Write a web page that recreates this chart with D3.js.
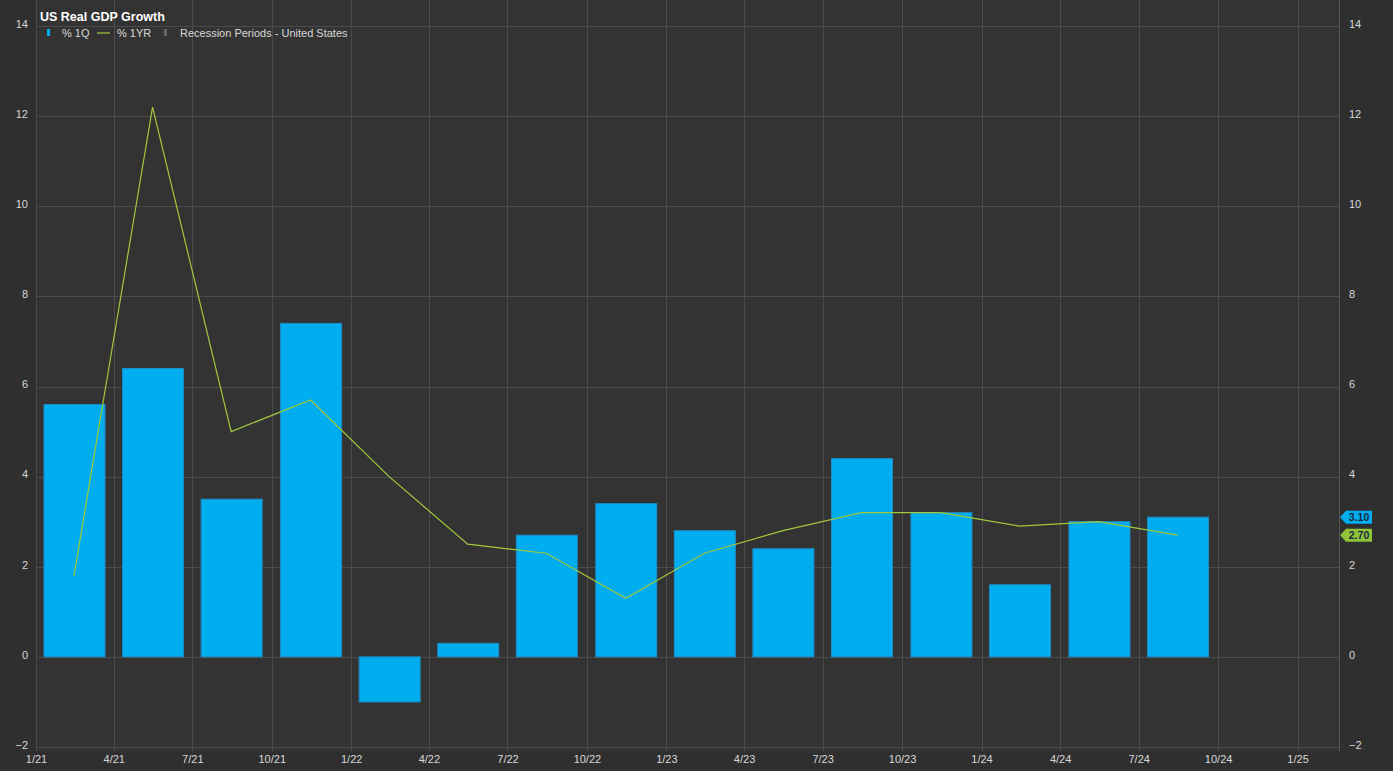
<!DOCTYPE html>
<html>
<head>
<meta charset="utf-8">
<script src="https://cdn.jsdelivr.net/npm/d3@7"></script>
<style>
html,body{margin:0;padding:0;background:#2f2f2f;}
svg{display:block;}
text{font-family:Arial,"Liberation Sans",sans-serif;}
</style>
</head>
<body>
<svg id="chart" width="1393" height="771"></svg>
<script>
const quarters = ["2021-02-14","2021-05-16","2021-08-15","2021-11-15","2022-02-14","2022-05-16","2022-08-15","2022-11-15","2023-02-14","2023-05-16","2023-08-15","2023-11-15","2024-02-14","2024-05-16","2024-08-15"];
const pct1Q = [5.6, 6.4, 3.5, 7.4, -1.0, 0.3, 2.7, 3.4, 2.8, 2.4, 4.4, 3.2, 1.6, 3.0, 3.1];
const pct1YR = [1.8, 12.2, 5.0, 5.7, 4.0, 2.5, 2.3, 1.3, 2.3, 2.8, 3.2, 3.2, 2.9, 3.0, 2.7];
const xTickDates = ["2021-01-01","2021-04-01","2021-07-01","2021-10-01","2022-01-01","2022-04-01","2022-07-01","2022-10-01","2023-01-01","2023-04-01","2023-07-01","2023-10-01","2024-01-01","2024-04-01","2024-07-01","2024-10-01","2025-01-01"];
const xTickLabels = ["1/21","4/21","7/21","10/21","1/22","4/22","7/22","10/22","1/23","4/23","7/23","10/23","1/24","4/24","7/24","10/24","1/25"];
const yTicks = [-2, 0, 2, 4, 6, 8, 10, 12, 14];
const title = "US Real GDP Growth";
const legendLabels = ["% 1Q", "% 1YR", "Recession Periods - United States"];
const lastLabels = ["3.10", "2.70"];

(function () {
const parse = d3.utcParse("%Y-%m-%d");
const svg = d3.select("#chart");
const W = 1393, H = 771;
const pLeft = 36, pRight = 1339, pTop = 26, pBottom = 747;

svg.append("rect").attr("width", W).attr("height", H).attr("fill", "#2f2f2f");
svg.append("rect").attr("x", pLeft).attr("y", 0).attr("width", pRight - pLeft).attr("height", 751).attr("fill", "#333333");

const x = d3.scaleUtc().domain([parse("2021-01-01"), parse("2025-02-18")]).range([pLeft, pRight]);
const y = d3.scaleLinear().domain([-2, 14]).range([pBottom, pTop]);

// grid
const grid = svg.append("g");
grid.selectAll("line.h").data(yTicks).join("line")
  .attr("x1", pLeft).attr("x2", pRight)
  .attr("y1", d => Math.round(y(d)) + 0.5).attr("y2", d => Math.round(y(d)) + 0.5)
  .attr("stroke", "#4b4b4b").attr("stroke-width", 1);
grid.selectAll("line.v").data(xTickDates).join("line")
  .attr("x1", d => Math.round(x(parse(d))) + 0.5).attr("x2", d => Math.round(x(parse(d))) + 0.5)
  .attr("y1", 0).attr("y2", pBottom + 4)
  .attr("stroke", "#4b4b4b").attr("stroke-width", 1);
svg.append("line").attr("x1", pRight + 0.5).attr("x2", pRight + 0.5).attr("y1", 0).attr("y2", pBottom + 4)
  .attr("stroke", "#555");

// axes labels
const axisL = d3.axisLeft(y).tickValues(yTicks).tickSize(0).tickPadding(0);
const gl = svg.append("g").attr("transform", `translate(${pLeft - 8},0)`).call(axisL);
gl.select(".domain").remove();
gl.selectAll("text").attr("fill", "#d8d8d8").attr("font-size", 11).attr("text-anchor", "end").attr("dy", "0.12em");

const axisR = d3.axisRight(y).tickValues(yTicks).tickSize(0).tickPadding(0);
const gr = svg.append("g").attr("transform", `translate(${pRight + 10},0)`).call(axisR);
gr.select(".domain").remove();
gr.selectAll("text").attr("fill", "#d8d8d8").attr("font-size", 11).attr("dy", "0.12em");

const axisB = d3.axisBottom(x).tickValues(xTickDates.map(parse)).tickSize(0).tickPadding(0)
  .tickFormat((d, i) => xTickLabels[i]);
const gb = svg.append("g").attr("transform", `translate(0,${pBottom + 8})`).call(axisB);
gb.select(".domain").remove();
gb.selectAll("text").attr("fill", "#d8d8d8").attr("font-size", 11);

// bars
const barW = 61;
svg.append("g").selectAll("rect").data(pct1Q).join("rect")
  .attr("x", (d, i) => x(parse(quarters[i])) - barW / 2 + 0.5)
  .attr("width", barW)
  .attr("y", d => y(Math.max(0, d)))
  .attr("height", d => Math.abs(y(d) - y(0)))
  .attr("fill", "#00adef")
  .attr("stroke", "#1d8cc8").attr("stroke-width", 1);

// line
const line = d3.line().x((d, i) => x(parse(quarters[i]))).y(d => y(d));
svg.append("path").datum(pct1YR).attr("d", line)
  .attr("fill", "none").attr("stroke", "#a2c83c").attr("stroke-width", 1.2);

// last value labels
function tag(val, label, color) {
  const yy = y(val);
  const g = svg.append("g").attr("transform", `translate(${pRight + 1},${yy})`);
  g.append("path").attr("d", "M0,0 L6,-6.5 L32,-6.5 L32,6.5 L6,6.5 Z").attr("fill", color);
  g.append("text").attr("x", 19).attr("y", 4).attr("text-anchor", "middle")
    .attr("font-size", 10.5).attr("font-weight", "bold").attr("fill", "#1a2a3a").text(label);
}
tag(pct1Q[pct1Q.length - 1], lastLabels[0], "#00adef");
tag(pct1YR[pct1YR.length - 1], lastLabels[1], "#8fc43a");

// title
svg.append("text").attr("x", 40).attr("y", 21).attr("fill", "#ffffff")
  .attr("font-size", 12.5).attr("font-weight", "bold").text(title);

// legend
const lg = svg.append("g").attr("transform", "translate(46,33)");
lg.append("rect").attr("x", 1).attr("y", -4).attr("width", 3).attr("height", 7).attr("fill", "#00adef");
lg.append("text").attr("x", 16).attr("y", 4).attr("fill", "#d8d8d8").attr("font-size", 11).text(legendLabels[0]);
lg.append("line").attr("x1", 51).attr("x2", 64).attr("y1", 0).attr("y2", 0).attr("stroke", "#a2c83c").attr("stroke-width", 1.2);
lg.append("text").attr("x", 71).attr("y", 4).attr("fill", "#d8d8d8").attr("font-size", 11).text(legendLabels[1]);
lg.append("rect").attr("x", 118).attr("y", -4).attr("width", 3).attr("height", 7).attr("fill", "#666");
lg.append("text").attr("x", 134).attr("y", 4).attr("fill", "#d8d8d8").attr("font-size", 11).text(legendLabels[2]);
})();
</script>
</body>
</html>
